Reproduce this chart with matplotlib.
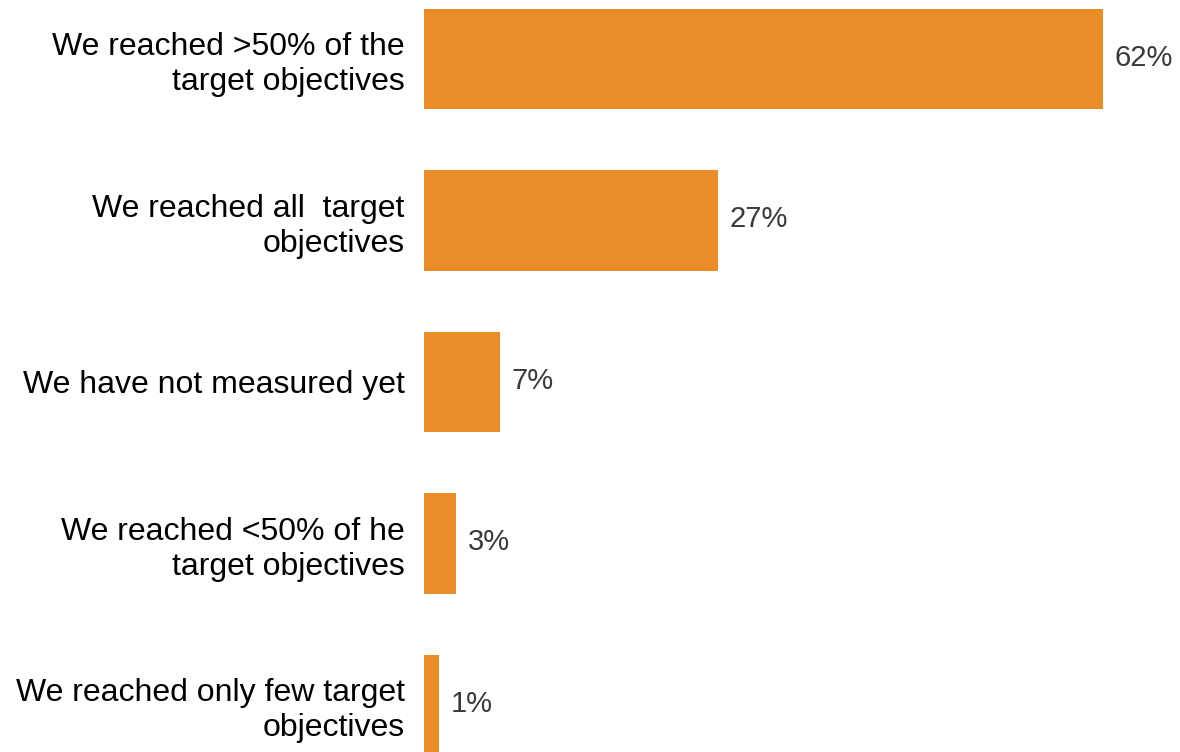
import matplotlib
matplotlib.use("Agg")
import matplotlib.pyplot as plt
import numpy as np

categories = [
    "We reached >50% of the\ntarget objectives",
    "We reached all  target\nobjectives",
    "We have not measured yet",
    "We reached <50% of he\ntarget objectives",
    "We reached only few target\nobjectives",
]
values = [62, 26.8, 6.9, 2.9, 1.4]
value_labels = ["62%", "27%", "7%", "3%", "1%"]

plt.rcParams['font.family'] = ['Liberation Sans', 'DejaVu Sans']

W, H = 1180, 752
fig = plt.figure(figsize=(W / 100, H / 100), dpi=100)
left_px = 424
xmax = 68
px_per_unit = 679 / 62
ax = fig.add_axes([left_px / W, 0, xmax * px_per_unit / W, 1])

pos = np.arange(len(values))
ax.barh(pos, values, height=0.62, color='#EA8C28')
spacing = 161.5
ax.set_ylim((H - 59) / spacing, -59 / spacing)
ax.set_xlim(0, xmax)

for p, v, lab in zip(pos, values, value_labels):
    ax.annotate(lab, (v, p), xytext=(8.5, 1), textcoords='offset points',
                va='center', ha='left', fontsize=21, color='#3a3a3a')

ax.set_yticks(pos)
ax.set_yticklabels(categories, fontsize=23, color='black', linespacing=1.2)
ax.tick_params(axis='y', length=0, pad=14)
ax.set_xticks([])
for s in ax.spines.values():
    s.set_visible(False)

fig.savefig("out.png", dpi=100)
